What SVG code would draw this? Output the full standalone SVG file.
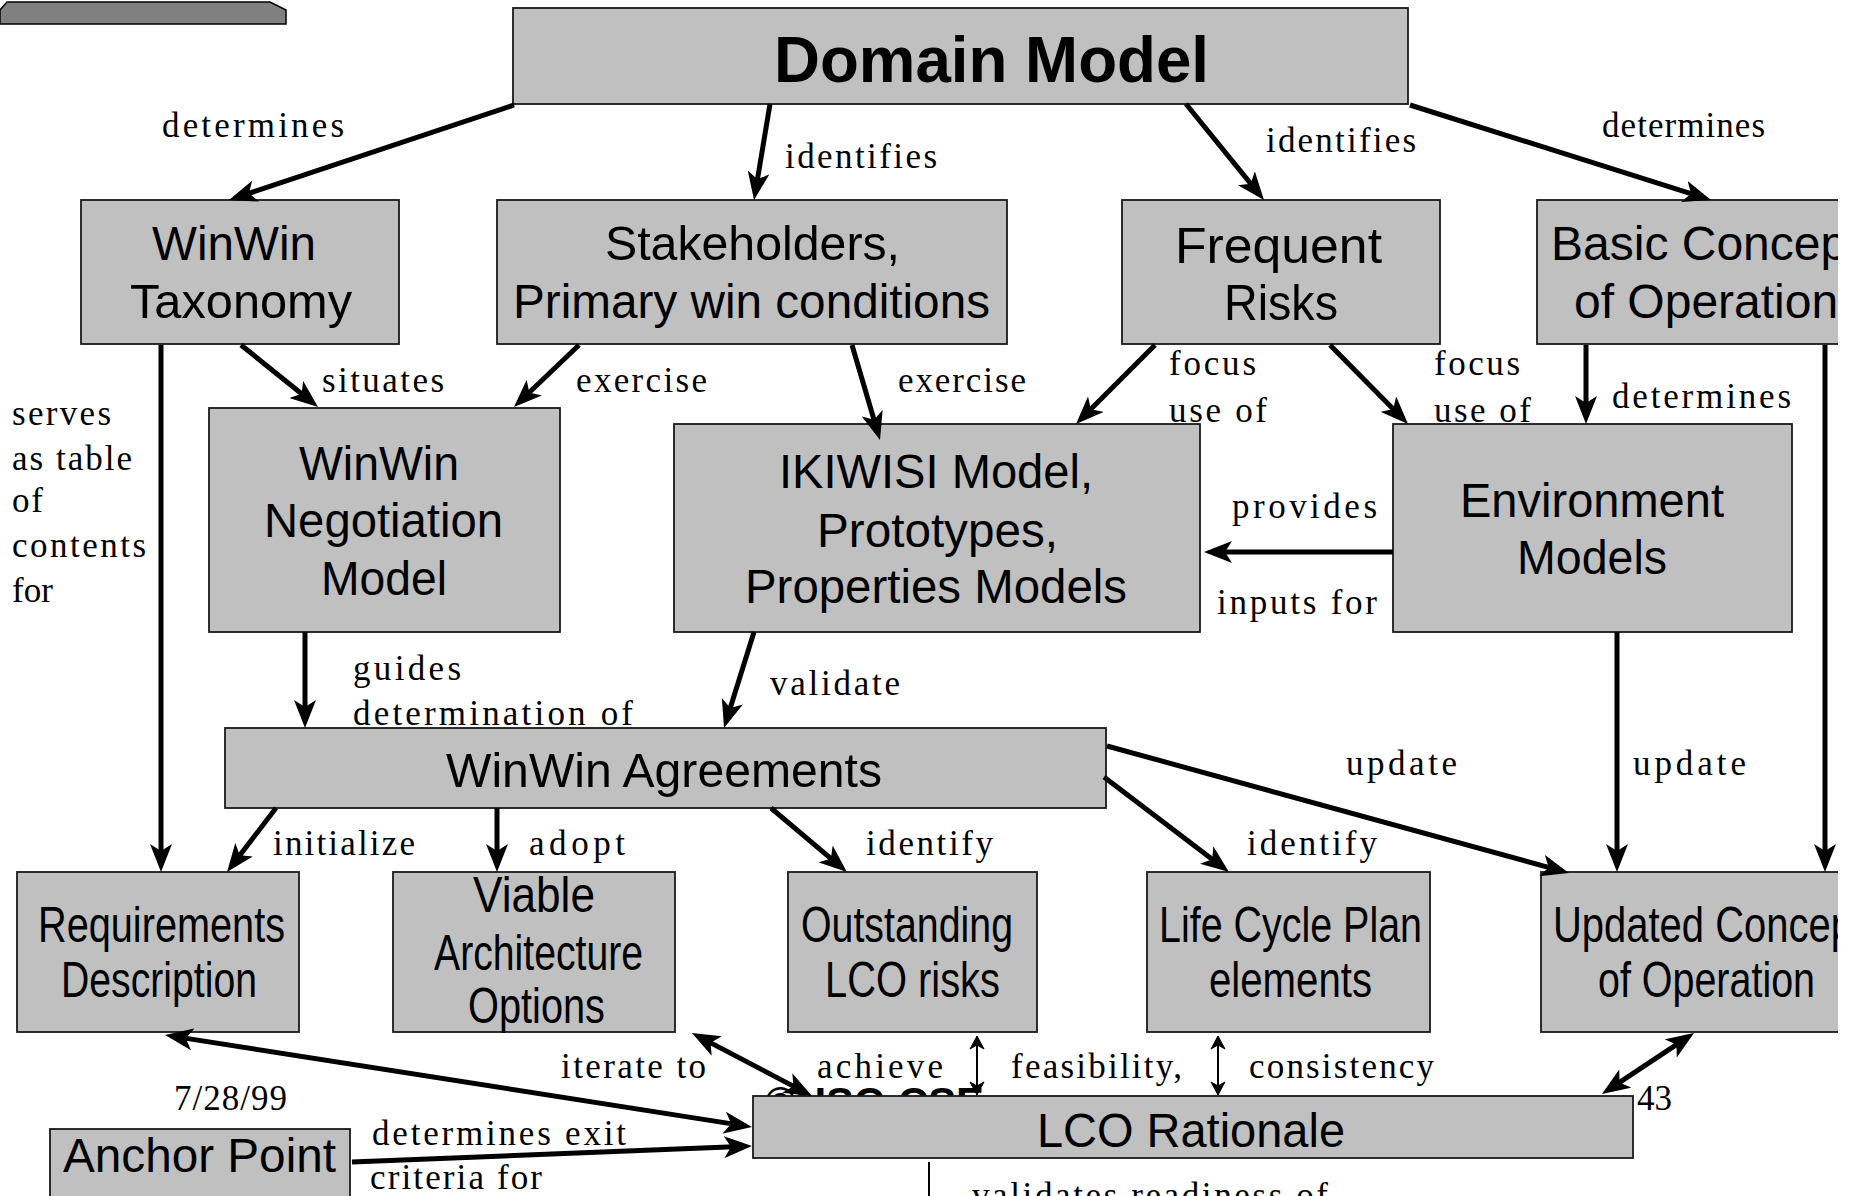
<svg xmlns="http://www.w3.org/2000/svg" width="1863" height="1196" viewBox="0 0 1863 1196">
<defs>
<style>
.box{fill:#c0c0c0;stroke:#1a1a1a;stroke-width:1.8}
.t{font-family:"Liberation Sans",Arial,sans-serif;font-size:48px;fill:#000}
.l{font-family:"Liberation Serif","Times New Roman",serif;font-size:35px;fill:#000}
.c{fill:none;stroke:#000;stroke-width:5;marker-end:url(#ah)}
.d{fill:none;stroke:#000;stroke-width:5;marker-end:url(#ah);marker-start:url(#ah)}
.thin{fill:none;stroke:#000;stroke-width:2;marker-end:url(#sh);marker-start:url(#sh)}
</style>
<marker id="ah" markerUnits="userSpaceOnUse" viewBox="0 0 28 22" markerWidth="28" markerHeight="22" refX="16" refY="11" orient="auto-start-reverse"><path d="M0,0 L28,11 L0,22 L7,11 z" fill="#000"/></marker>
<marker id="sh" markerUnits="userSpaceOnUse" viewBox="0 0 15 16" markerWidth="15" markerHeight="16" refX="14" refY="8" orient="auto-start-reverse"><path d="M1,1 L14,8 L1,15 L5,8 z" fill="#000" stroke="#000" stroke-width="1"/></marker>
<clipPath id="page"><rect x="0" y="0" width="1838" height="1196"/></clipPath>
</defs>
<rect x="0" y="0" width="1863" height="1196" fill="#fff"/>
<g clip-path="url(#page)">
<polygon points="0,10 7,2 270,2 286,10 286,24 0,24" fill="#808080" stroke="#000" stroke-width="1.5"/>

<g id="domain-model"><rect class="box" x="513" y="8" width="895" height="96"/><text class="t" x="774" y="82" style="font-size:65px;font-weight:bold" textLength="435" lengthAdjust="spacingAndGlyphs">Domain Model</text></g>
<g id="winwin-taxonomy"><rect class="box" x="81" y="200" width="318" height="144"/><text class="t" x="152" y="260" textLength="164" lengthAdjust="spacingAndGlyphs">WinWin</text><text class="t" x="130" y="318" textLength="222" lengthAdjust="spacingAndGlyphs">Taxonomy</text></g>
<g id="stakeholders"><rect class="box" x="497" y="200" width="510" height="144"/><text class="t" x="605" y="260" textLength="295" lengthAdjust="spacingAndGlyphs">Stakeholders,</text><text class="t" x="513" y="318" textLength="477" lengthAdjust="spacingAndGlyphs">Primary win conditions</text></g>
<g id="frequent-risks"><rect class="box" x="1122" y="200" width="318" height="144"/><text class="t" x="1175" y="263" style="font-size:50px" textLength="207" lengthAdjust="spacingAndGlyphs">Frequent</text><text class="t" x="1224" y="320" style="font-size:50px" textLength="114" lengthAdjust="spacingAndGlyphs">Risks</text></g>
<g id="basic-concept"><rect class="box" x="1537" y="200" width="360" height="144"/><text class="t" x="1551" y="260">Basic Concept</text><text class="t" x="1574" y="318">of Operation</text></g>
<g id="winwin-negotiation"><rect class="box" x="209" y="408" width="351" height="224"/><text class="t" x="299" y="480" textLength="160" lengthAdjust="spacingAndGlyphs">WinWin</text><text class="t" x="264" y="537" textLength="239" lengthAdjust="spacingAndGlyphs">Negotiation</text><text class="t" x="321" y="595" textLength="126" lengthAdjust="spacingAndGlyphs">Model</text></g>
<g id="ikiwisi"><rect class="box" x="674" y="424" width="526" height="208"/><text class="t" x="779" y="488" textLength="314" lengthAdjust="spacingAndGlyphs">IKIWISI Model,</text><text class="t" x="817" y="547" textLength="241" lengthAdjust="spacingAndGlyphs">Prototypes,</text><text class="t" x="745" y="603" textLength="382" lengthAdjust="spacingAndGlyphs">Properties Models</text></g>
<g id="environment-models"><rect class="box" x="1393" y="424" width="399" height="208"/><text class="t" x="1460" y="517" textLength="264" lengthAdjust="spacingAndGlyphs">Environment</text><text class="t" x="1517" y="574" textLength="150" lengthAdjust="spacingAndGlyphs">Models</text></g>
<g id="winwin-agreements"><rect class="box" x="225" y="728" width="881" height="80"/><text class="t" x="446" y="787" textLength="436" lengthAdjust="spacingAndGlyphs">WinWin Agreements</text></g>
<g id="requirements"><rect class="box" x="17" y="872" width="282" height="160"/><text class="t" x="38" y="942" style="font-size:50px" textLength="247" lengthAdjust="spacingAndGlyphs">Requirements</text><text class="t" x="61" y="997" style="font-size:50px" textLength="196" lengthAdjust="spacingAndGlyphs">Description</text></g>
<g id="viable-architecture"><rect class="box" x="393" y="872" width="282" height="160"/><text class="t" x="473" y="912" style="font-size:50px" textLength="122" lengthAdjust="spacingAndGlyphs">Viable</text><text class="t" x="434" y="970" style="font-size:50px" textLength="209" lengthAdjust="spacingAndGlyphs">Architecture</text><text class="t" x="468" y="1023" style="font-size:50px" textLength="137" lengthAdjust="spacingAndGlyphs">Options</text></g>
<g id="outstanding-risks"><rect class="box" x="788" y="872" width="249" height="160"/><text class="t" x="801" y="942" style="font-size:50px" textLength="212" lengthAdjust="spacingAndGlyphs">Outstanding</text><text class="t" x="825" y="997" style="font-size:50px" textLength="175" lengthAdjust="spacingAndGlyphs">LCO risks</text></g>
<g id="life-cycle-plan"><rect class="box" x="1147" y="872" width="283" height="160"/><text class="t" x="1159" y="942" style="font-size:50px" textLength="263" lengthAdjust="spacingAndGlyphs">Life Cycle Plan</text><text class="t" x="1209" y="997" style="font-size:50px" textLength="163" lengthAdjust="spacingAndGlyphs">elements</text></g>
<g id="updated-concept"><rect class="box" x="1541" y="872" width="360" height="160"/><text class="t" x="1553" y="942" style="font-size:50px" textLength="311" lengthAdjust="spacingAndGlyphs">Updated Concept</text><text class="t" x="1598" y="997" style="font-size:50px" textLength="217" lengthAdjust="spacingAndGlyphs">of Operation</text></g>
<text x="765" y="1117" style="font-family:'Liberation Sans',Arial,sans-serif;font-size:42px;font-weight:bold" textLength="219" lengthAdjust="spacingAndGlyphs">©USC-CSE</text>
<g id="lco-rationale"><rect class="box" x="753" y="1096" width="880" height="62"/><text class="t" x="1037" y="1147" textLength="308" lengthAdjust="spacingAndGlyphs">LCO Rationale</text></g>
<g id="anchor-point"><rect class="box" x="50" y="1129" width="300" height="90"/><text class="t" x="63" y="1172" textLength="273" lengthAdjust="spacingAndGlyphs">Anchor Point</text></g>

<g id="connectors">
<path class="c" d="M514,105 L240.4,196.2"/>
<path class="c" d="M770,104 L756,188.2"/>
<path class="c" d="M1186,104 L1256.4,190.7"/>
<path class="c" d="M1410,105 L1699.6,196.4"/>
<path class="c" d="M241,345 L308.7,399.5"/>
<path class="c" d="M579,345 L522.7,398.7"/>
<path class="c" d="M852,345 L876.6,428.5"/>
<path class="c" d="M1155,345 L1084.5,415.5"/>
<path class="c" d="M1330,345 L1399.6,415.5"/>
<path class="c" d="M1586,345 L1586,412"/>
<path class="c" d="M1825,345 L1825,860"/>
<path class="c" d="M161,345 L161,860"/>
<path class="c" d="M305,632 L305,716"/>
<path class="c" d="M754,632 L727.6,716.6"/>
<path class="c" d="M1393,552 L1216,552"/>
<path class="c" d="M1617,632 L1617,860"/>
<path class="c" d="M1107,746 L1557.4,869.8"/>
<path class="c" d="M1104,777 L1219.4,864.7"/>
<path class="c" d="M771,808 L837.8,864.3"/>
<path class="c" d="M497,808 L497,860"/>
<path class="c" d="M276,808 L234.3,862.5"/>
<path class="d" d="M176.9,1036.9 L740.1,1125.1"/>
<path class="c" d="M352,1162 L740,1146.5"/>
<path class="d" d="M702.6,1038.6 L801.4,1090.4"/>
<path class="d" d="M1684,1039.6 L1612,1087.4"/>
<path class="thin" d="M977,1036 L977,1095"/>
<path class="thin" d="M1218,1036 L1218,1095"/>
<path d="M929,1162 L929,1196" stroke="#000" stroke-width="2"/>
</g>

<g id="labels">
<text class="l" x="162" y="137" textLength="182">determines</text>
<text class="l" x="785" y="168" textLength="152">identifies</text>
<text class="l" x="1266" y="152" textLength="150">identifies</text>
<text class="l" x="1602" y="137" textLength="163">determines</text>
<text class="l" x="322" y="392" textLength="122">situates</text>
<text class="l" x="576" y="392" textLength="131">exercise</text>
<text class="l" x="898" y="392" textLength="128">exercise</text>
<text class="l" x="1169" y="375" textLength="87">focus</text>
<text class="l" x="1169" y="422" textLength="98">use of</text>
<text class="l" x="1434" y="375" textLength="86">focus</text>
<text class="l" x="1434" y="422" textLength="97">use of</text>
<text class="l" x="1612" y="408" textLength="179">determines</text>
<text class="l" x="12" y="425" textLength="99">serves</text>
<text class="l" x="12" y="470" textLength="120">as table</text>
<text class="l" x="12" y="512" textLength="31">of</text>
<text class="l" x="12" y="557" textLength="134">contents</text>
<text class="l" x="12" y="602" textLength="41">for</text>
<text class="l" x="1232" y="518" textLength="145">provides</text>
<text class="l" x="1217" y="614" textLength="160">inputs for</text>
<text class="l" x="353" y="680" textLength="108">guides</text>
<text class="l" x="353" y="725" textLength="280">determination of</text>
<text class="l" x="770" y="695" textLength="130">validate</text>
<text class="l" x="1346" y="775" textLength="111">update</text>
<text class="l" x="1633" y="775" textLength="113">update</text>
<text class="l" x="273" y="855" textLength="142">initialize</text>
<text class="l" x="529" y="855" textLength="96">adopt</text>
<text class="l" x="866" y="855" textLength="127">identify</text>
<text class="l" x="1247" y="855" textLength="130">identify</text>
<text class="l" x="561" y="1078" textLength="145">iterate to</text>
<text class="l" x="817" y="1078" textLength="126">achieve</text>
<text class="l" x="1011" y="1078" textLength="171">feasibility,</text>
<text class="l" x="1249" y="1078" textLength="185">consistency</text>
<text class="l" x="174" y="1110" textLength="113">7/28/99</text>
<text class="l" x="1637" y="1110" textLength="35">43</text>
<text class="l" x="372" y="1145" textLength="254">determines exit</text>
<text class="l" x="370" y="1189" textLength="172">criteria for</text>
<text class="l" x="972" y="1207" textLength="356">validates readiness of</text>
</g>
</g>
</svg>
